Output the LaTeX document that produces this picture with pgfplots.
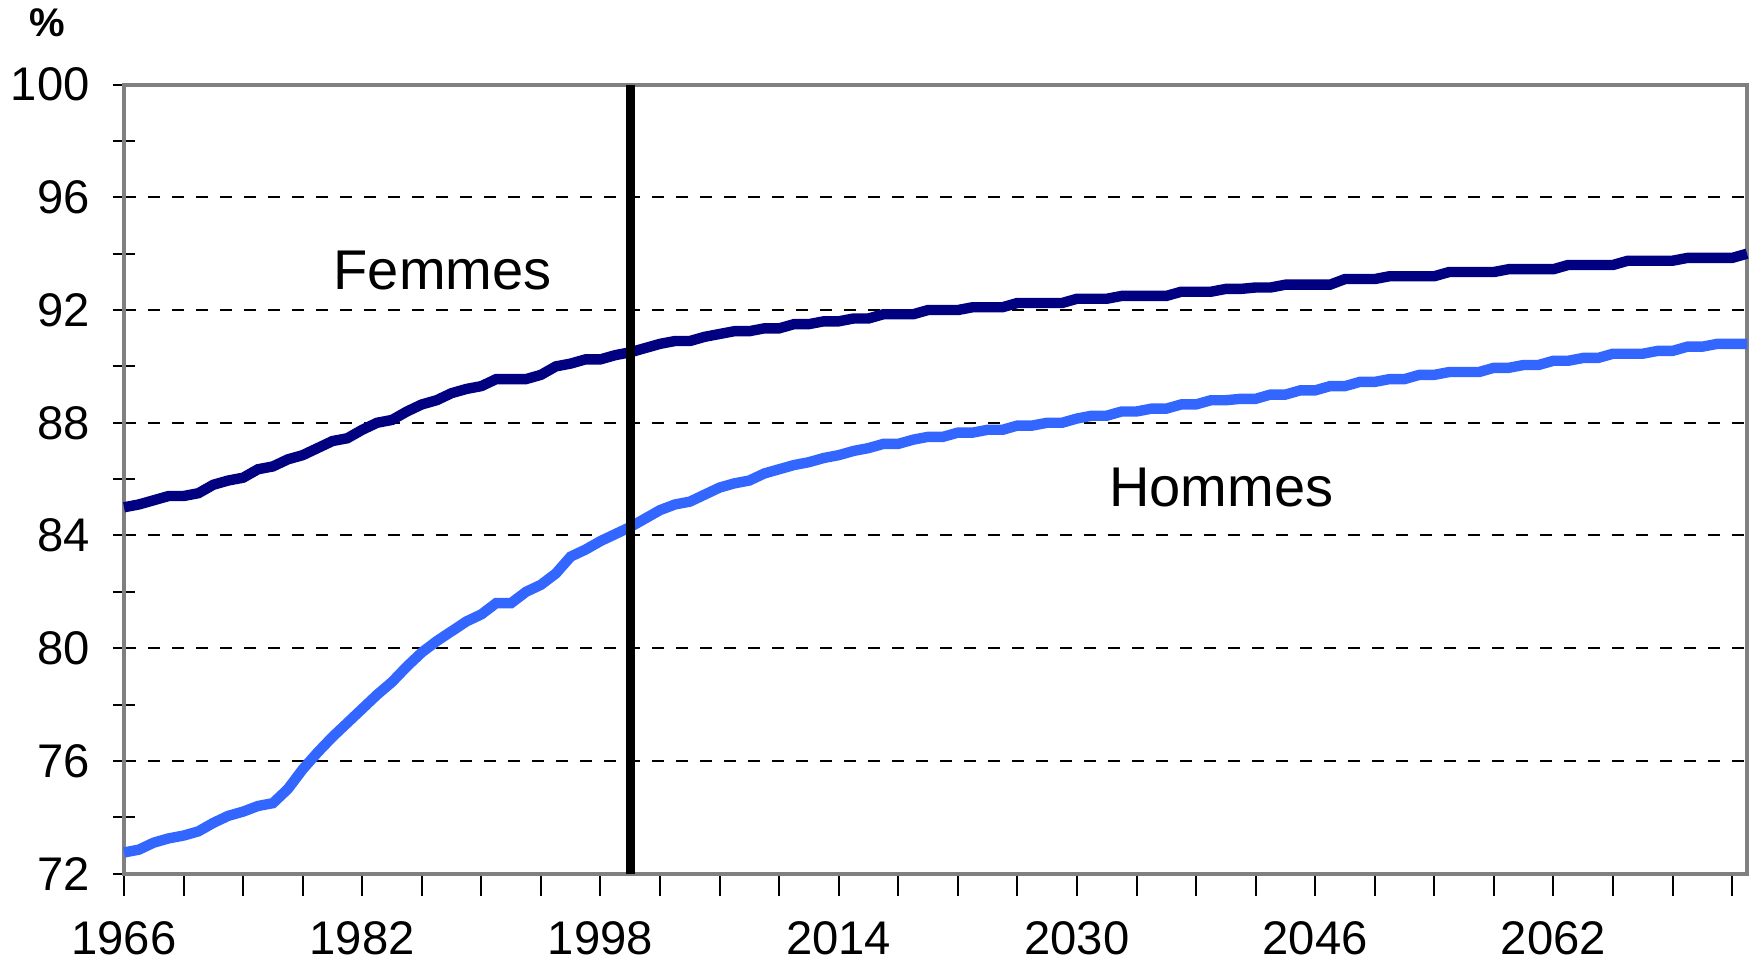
\documentclass[border=0pt]{standalone}
\usepackage{fontspec}
\setmainfont{Liberation Sans}
\usepackage{pgfplots}
\usepackage{pgfplotstable}
\pgfplotsset{compat=1.18}
\definecolor{femmes}{HTML}{000080}
\definecolor{hommes}{HTML}{3366FF}
\definecolor{cadre}{HTML}{808080}

% annee, femmes, hommes
\pgfplotstableread{
annee femmes hommes
1966 85.00 72.75
1967 85.10 72.85
1968 85.25 73.10
1969 85.40 73.25
1970 85.40 73.35
1971 85.50 73.50
1972 85.80 73.80
1973 85.95 74.05
1974 86.05 74.20
1975 86.35 74.40
1976 86.45 74.50
1977 86.70 75.00
1978 86.85 75.70
1979 87.10 76.30
1980 87.35 76.85
1981 87.45 77.35
1982 87.75 77.85
1983 88.00 78.35
1984 88.10 78.80
1985 88.40 79.35
1986 88.65 79.85
1987 88.80 80.25
1988 89.05 80.60
1989 89.20 80.95
1990 89.30 81.20
1991 89.55 81.60
1992 89.55 81.60
1993 89.55 82.00
1994 89.70 82.25
1995 90.00 82.65
1996 90.10 83.25
1997 90.25 83.50
1998 90.25 83.80
1999 90.40 84.05
2000 90.50 84.30
2001 90.65 84.60
2002 90.80 84.90
2003 90.90 85.10
2004 90.90 85.20
2005 91.05 85.45
2006 91.15 85.70
2007 91.25 85.85
2008 91.25 85.95
2009 91.35 86.20
2010 91.35 86.35
2011 91.50 86.50
2012 91.50 86.60
2013 91.60 86.75
2014 91.60 86.85
2015 91.70 87.00
2016 91.70 87.10
2017 91.85 87.25
2018 91.85 87.25
2019 91.85 87.40
2020 92.00 87.50
2021 92.00 87.50
2022 92.00 87.65
2023 92.10 87.65
2024 92.10 87.75
2025 92.10 87.75
2026 92.25 87.90
2027 92.25 87.90
2028 92.25 88.00
2029 92.25 88.00
2030 92.40 88.15
2031 92.40 88.25
2032 92.40 88.25
2033 92.50 88.40
2034 92.50 88.40
2035 92.50 88.50
2036 92.50 88.50
2037 92.65 88.65
2038 92.65 88.65
2039 92.65 88.80
2040 92.75 88.80
2041 92.75 88.85
2042 92.80 88.85
2043 92.80 89.00
2044 92.90 89.00
2045 92.90 89.15
2046 92.90 89.15
2047 92.90 89.30
2048 93.10 89.30
2049 93.10 89.45
2050 93.10 89.45
2051 93.20 89.55
2052 93.20 89.55
2053 93.20 89.70
2054 93.20 89.70
2055 93.35 89.80
2056 93.35 89.80
2057 93.35 89.80
2058 93.35 89.95
2059 93.45 89.95
2060 93.45 90.05
2061 93.45 90.05
2062 93.45 90.20
2063 93.60 90.20
2064 93.60 90.30
2065 93.60 90.30
2066 93.60 90.45
2067 93.75 90.45
2068 93.75 90.45
2069 93.75 90.55
2070 93.75 90.55
2071 93.85 90.70
2072 93.85 90.70
2073 93.85 90.80
2074 93.85 90.80
2075 94.00 90.80
}\esperance

\begin{document}
\begin{tikzpicture}
\begin{axis}[
    name=ax,
    scale only axis,
    width=405.75pt,
    height=197.25pt,
    xmin=1966, xmax=2075,
    ymin=72, ymax=100,
    xtick={1966,1982,...,2062},
    minor xtick={1970,1974,...,2074},
    ytick={72,76,...,100},
    minor ytick={74,78,...,98},
    xtick pos=bottom,
    ytick pos=left,
    xtick align=outside,
    ytick align=center,
    major tick length=5.5pt,
    minor tick length=5.5pt,
    tick style={black, line width=0.5pt},
    ymajorgrids,
    major grid style={dashed, black, line width=0.5pt},
    axis line style={cadre, line width=1pt},
    tick label style={font=\fontsize{11.8}{13}\selectfont},
    yticklabel style={xshift=-2.3pt},
    xticklabel style={inner ysep=0pt, yshift=-6.2pt},
    /pgf/number format/assume math mode=true,
    /pgf/number format/1000 sep={},
    clip=false,
]
\addplot[femmes, line width=2.6pt] table[x=annee, y=femmes] {\esperance};
\addplot[hommes, line width=2.6pt] table[x=annee, y=hommes] {\esperance};
% trait vertical en 2000
\addplot[black, line width=2.3pt] coordinates {(2000,72) (2000,100)};

\node[font=\fontsize{14}{16}\selectfont] at (axis cs:1987.4,93.4) {Femmes};
\node[font=\fontsize{14}{16}\selectfont] at (axis cs:2039.7,85.7) {Hommes};
\node[font=\bfseries\fontsize{10}{12}\selectfont, inner sep=0.5pt] at (rel axis cs:-0.047,1.078) {\%};
\end{axis}
% cadre de la page aux proportions de l'original
\pgfresetboundingbox
\path ([xshift=-31pt,yshift=-22.6pt]ax.south west) rectangle ([xshift=1pt,yshift=21.15pt]ax.north east);
\end{tikzpicture}
\end{document}
